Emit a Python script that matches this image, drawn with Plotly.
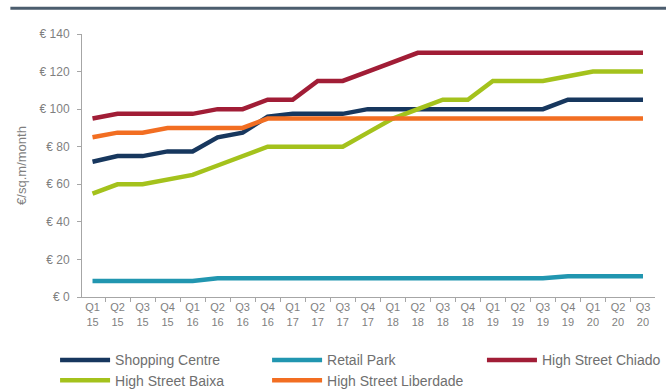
import plotly.graph_objects as go

# Quarterly labels Q1 2015 .. Q3 2020
quarters = ["Q1<br>15", "Q2<br>15", "Q3<br>15", "Q4<br>15",
            "Q1<br>16", "Q2<br>16", "Q3<br>16", "Q4<br>16",
            "Q1<br>17", "Q2<br>17", "Q3<br>17", "Q4<br>17",
            "Q1<br>18", "Q2<br>18", "Q3<br>18", "Q4<br>18",
            "Q1<br>19", "Q2<br>19", "Q3<br>19", "Q4<br>19",
            "Q1<br>20", "Q2<br>20", "Q3<br>20"]

# Prime rents, EUR per sq.m per month
shopping_centre = [72, 75, 75, 77.5, 77.5, 85, 87.5, 96, 97.5, 97.5, 97.5, 100,
                   100, 100, 100, 100, 100, 100, 100, 105, 105, 105, 105]
retail_park = [8.5, 8.5, 8.5, 8.5, 8.5, 10, 10, 10, 10, 10, 10, 10,
               10, 10, 10, 10, 10, 10, 10, 11, 11, 11, 11]
high_street_chiado = [95, 97.5, 97.5, 97.5, 97.5, 100, 100, 105, 105, 115, 115, 120,
                      125, 130, 130, 130, 130, 130, 130, 130, 130, 130, 130]
high_street_baixa = [55, 60, 60, 62.5, 65, 70, 75, 80, 80, 80, 80, 87.5,
                     95, 100, 105, 105, 115, 115, 115, 117.5, 120, 120, 120]
high_street_liberdade = [85, 87.5, 87.5, 90, 90, 90, 90, 95, 95, 95, 95, 95,
                         95, 95, 95, 95, 95, 95, 95, 95, 95, 95, 95]

y_ticks = [0, 20, 40, 60, 80, 100, 120, 140]
y_tick_labels = ["€ 0", "€ 20", "€ 40", "€ 60", "€ 80", "€ 100", "€ 120", "€ 140"]

# name, values, colour, legend id, legend anchor (paper x, paper y)
series = [
    ("Shopping Centre", shopping_centre, "#17375E", "legend", (-0.047, -0.18)),
    ("Retail Park", retail_park, "#2196B0", "legend2", (0.323, -0.18)),
    ("High Street Chiado", high_street_chiado, "#A11D36", "legend3", (0.698, -0.18)),
    ("High Street Baixa", high_street_baixa, "#A4C21C", "legend4", (-0.047, -0.257)),
    ("High Street Liberdade", high_street_liberdade, "#F26E22", "legend5", (0.323, -0.257)),
]

axis_grey = "#A6A6A6"
text_grey = "#7F7F7F"

fig = go.Figure()
legend_layouts = {}
for name, values, color, legend_id, (lx, ly) in series:
    fig.add_trace(go.Scatter(
        x=quarters, y=values, name=name, mode="lines",
        line=dict(color=color, width=4.5), legend=legend_id,
    ))
    legend_layouts[legend_id] = dict(
        orientation="v", x=lx, y=ly, xanchor="left", yanchor="top",
        itemwidth=50, font=dict(size=14, color="#6F6F6F"),
        bgcolor="rgba(0,0,0,0)", borderwidth=0,
    )

fig.update_layout(
    width=666, height=390,
    margin=dict(l=82, r=11, t=34, b=93, autoexpand=False),
    paper_bgcolor="white", plot_bgcolor="white",
    font=dict(family="Liberation Sans, Arial, sans-serif", color=text_grey, size=10),
    showlegend=True,
    xaxis=dict(
        type="category", categoryorder="array", categoryarray=quarters,
        range=[-0.42, 22.48],
        showgrid=False, zeroline=False,
        showline=True, linecolor=axis_grey, linewidth=1,
        ticks="outside", ticklen=4, tickcolor=axis_grey, tickson="boundaries",
        tickfont=dict(size=11, color=text_grey),
    ),
    yaxis=dict(
        range=[0, 140],
        tickmode="array", tickvals=y_ticks, ticktext=y_tick_labels,
        showgrid=False, zeroline=False,
        showline=True, linecolor=axis_grey, linewidth=1,
        ticks="outside", ticklen=4, tickcolor=axis_grey,
        ticklabelstandoff=5,
        tickfont=dict(size=12, color=text_grey),
        title=dict(text="€/sq.m/month", font=dict(size=13, color=text_grey), standoff=10),
    ),
    shapes=[dict(
        type="line", xref="paper", yref="paper",
        x0=-0.125, x1=1.03, y0=1.098, y1=1.098,
        line=dict(color="#4B5D6E", width=3),
    )],
    **legend_layouts,
)

fig.write_html("out.html")
